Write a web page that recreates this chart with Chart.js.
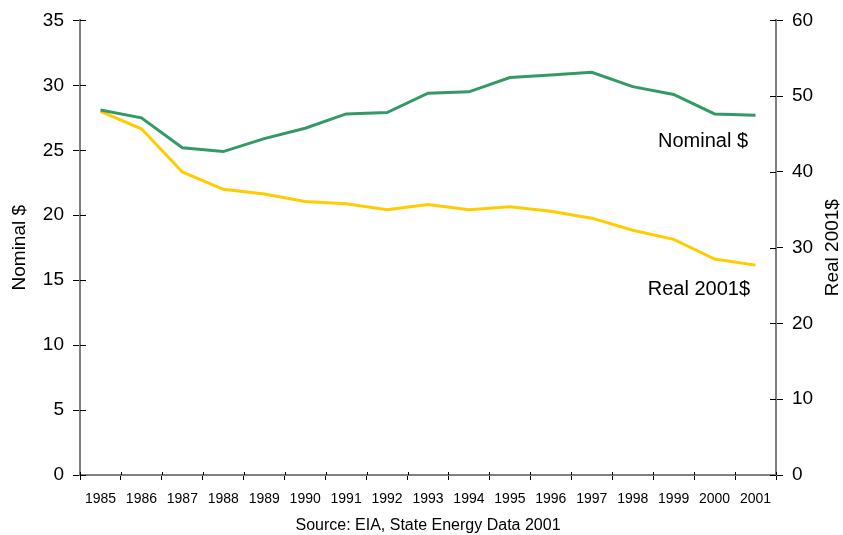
<!DOCTYPE html>
<html>
<head>
<meta charset="utf-8">
<script src="https://cdn.jsdelivr.net/npm/chart.js@4/dist/chart.umd.min.js"></script>
<style>
  html, body { margin: 0; padding: 0; background: #fff; }
  #wrap { width: 843px; height: 535px; }
</style>
</head>
<body>
<div id="wrap"><canvas id="priceChart"></canvas></div>
<script>
const years = ['1985', '1986', '1987', '1988', '1989', '1990', '1991', '1992', '1993',
    '1994', '1995', '1996', '1997', '1998', '1999', '2000', '2001'];
const nominal = [28.1, 27.5, 25.2, 24.9, 25.9, 26.7, 27.8, 27.9, 29.4, 29.5, 30.6, 30.8, 31.0, 29.9, 29.3, 27.8, 27.7];
const real2001 = [48.0, 45.7, 40.0, 37.7, 37.1, 36.1, 35.8, 35.0, 35.7, 35.0, 35.4, 34.8, 33.9, 32.3, 31.1, 28.5, 27.7];
const leftTicks = [0, 5, 10, 15, 20, 25, 30, 35];
const rightTicks = [0, 10, 20, 30, 40, 50, 60];

const FONT = "'Liberation Sans', Arial, sans-serif";
const GREEN = '#339966';
const YELLOW = '#FFCC00';

// small inward tick marks, series labels and the right axis title
const extras = {
    id: 'extras',
    afterDraw(chart) {
        const ctx = chart.ctx;
        const {x, yL, yR} = chart.scales;
        const area = chart.chartArea;
        ctx.save();
        ctx.strokeStyle = '#000';
        ctx.lineWidth = 1;
        ctx.beginPath();
        leftTicks.forEach(v => {
            const py = Math.round(yL.getPixelForValue(v)) + 0.5;
            ctx.moveTo(area.left, py);
            ctx.lineTo(area.left + 6, py);
        });
        rightTicks.forEach(v => {
            const py = Math.round(yR.getPixelForValue(v)) + 0.5;
            ctx.moveTo(area.right, py);
            ctx.lineTo(area.right - 6, py);
        });
        for (let i = 0; i <= years.length; i++) {
            const px = Math.round(x.getPixelForValue(i - 0.5)) + 0.5;
            ctx.moveTo(px, area.bottom);
            ctx.lineTo(px, area.bottom - 3);
        }
        ctx.stroke();

        ctx.fillStyle = '#000';
        ctx.font = '20px ' + FONT;
        ctx.textAlign = 'right';
        ctx.textBaseline = 'middle';
        ctx.fillText('Nominal $', area.right - 28, yL.getPixelForValue(25.7));
        ctx.fillText('Real 2001$', area.right - 26, yR.getPixelForValue(24.5));

        ctx.font = '19px ' + FONT;
        ctx.textAlign = 'center';
        ctx.translate(833, (area.top + area.bottom) / 2);
        ctx.rotate(-Math.PI / 2);
        ctx.fillText('Real 2001$', 0, 0);
        ctx.restore();
    }
};

new Chart(document.getElementById('priceChart'), {
    type: 'line',
    data: {
        labels: years,
        datasets: [{
            label: 'Nominal $',
            data: nominal,
            borderColor: GREEN,
            borderWidth: 3,
            pointRadius: 0,
            tension: 0,
            yAxisID: 'yL'
        }, {
            label: 'Real 2001$',
            data: real2001,
            borderColor: YELLOW,
            borderWidth: 3,
            pointRadius: 0,
            tension: 0,
            yAxisID: 'yR'
        }]
    },
    options: {
        responsive: true,
        maintainAspectRatio: false,
        animation: false,
        layout: { padding: { top: 18, bottom: 0, left: 0, right: 0 } },
        plugins: {
            legend: { display: false },
            tooltip: { enabled: false }
        },
        scales: {
            x: {
                offset: true,
                grid: {
                    offset: true,
                    drawOnChartArea: false,
                    tickLength: 5,
                    tickColor: '#000'
                },
                border: { color: '#808080', width: 2 },
                ticks: {
                    color: '#000',
                    font: { family: FONT, size: 14 },
                    maxRotation: 0,
                    autoSkip: false,
                    padding: 11
                },
                title: {
                    display: true,
                    text: 'Source: EIA, State Energy Data 2001',
                    color: '#000',
                    font: { family: FONT, size: 16 },
                    padding: { top: 0, bottom: 0 }
                },
                afterFit(scale) { scale.height = 60; }
            },
            yL: {
                position: 'left',
                min: 0,
                max: 35,
                grid: {
                    drawOnChartArea: false,
                    tickLength: 7,
                    tickColor: '#000'
                },
                border: { color: '#808080', width: 2 },
                ticks: {
                    stepSize: 5,
                    color: '#000',
                    font: { family: FONT, size: 19 },
                    padding: 9
                },
                title: {
                    display: true,
                    text: 'Nominal $',
                    color: '#000',
                    font: { family: FONT, size: 19 },
                    padding: { top: 8, bottom: 0 }
                },
                afterFit(scale) { scale.width = 80; }
            },
            yR: {
                position: 'right',
                min: 0,
                max: 60,
                grid: {
                    drawOnChartArea: false,
                    tickLength: 7,
                    tickColor: '#000'
                },
                border: { color: '#808080', width: 2 },
                ticks: {
                    stepSize: 10,
                    color: '#000',
                    font: { family: FONT, size: 19 },
                    padding: 9
                },
                afterFit(scale) { scale.width = 67; }
            }
        }
    },
    plugins: [extras]
});
</script>
</body>
</html>
